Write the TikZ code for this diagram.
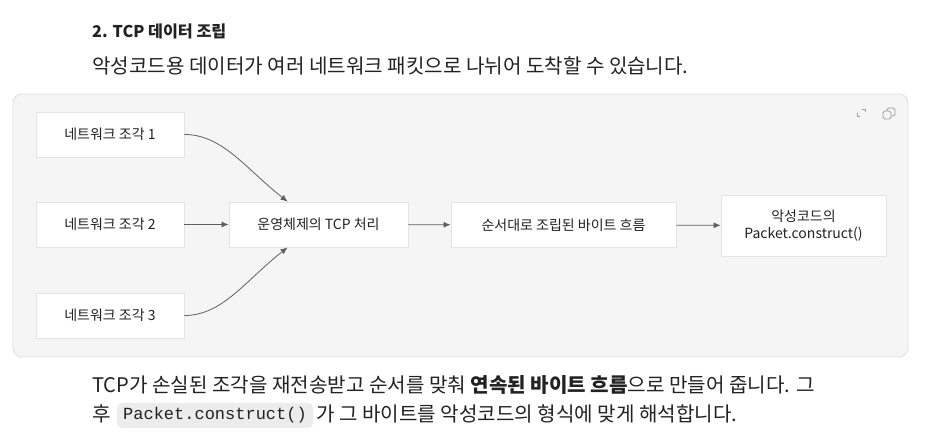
\documentclass[tikz,border=0pt]{standalone}
\usepackage{fontspec}
\setmainfont{Noto Sans CJK KR}
\newfontfamily\codefont{Liberation Mono}
\usetikzlibrary{arrows.meta}
\definecolor{panelbg}{HTML}{F5F5F5}
\definecolor{panelbd}{HTML}{E2E2E2}
\definecolor{boxbd}{HTML}{E4E4E4}
\definecolor{edgec}{HTML}{5F5F5F}
\definecolor{txt}{HTML}{222222}
\definecolor{codebg}{HTML}{ECECEC}
\tikzset{
  flowbox/.style={draw=boxbd, line width=0.9pt, fill=white, inner sep=0pt,
    minimum height=45pt, font=\fontsize{14}{16.5}\selectfont, text=txt, align=center},
  edge/.style={draw=edgec, line width=0.8pt, -{Latex[length=7pt,width=6pt]}},
  para/.style={anchor=base west, inner sep=0pt, text=txt, font=\fontsize{20.1}{24}\selectfont},
  icon/.style={draw=gray!75, line width=0.8pt}
}
\begin{document}
\begin{tikzpicture}[x=1pt,y=-1pt]
\useasboundingbox[fill=white] (0,0) rectangle (927,446);
% heading
\node[para, font=\fontsize{16.2}{18}\selectfont\bfseries] (title) at (92,38) {2. TCP 데이터 조립};
\node[para] (sub) at (92,74) {악성코드용 데이터가 여러 네트워크 패킷으로 나뉘어 도착할 수 있습니다.};
% panel
\draw[fill=panelbg, draw=panelbd, line width=0.9pt, rounded corners=9pt] (13,94) rectangle (908,357);
% icons
\draw[icon] (857,113) -- (857,116) -- (860,116);
\draw[icon] (862,109) -- (865,109) -- (865,112);
\draw[icon, rounded corners=1.8pt] (887,108) rectangle (895,116);
\draw[icon, rounded corners=1.8pt, fill=panelbg] (883,111) rectangle (891,119);
% nodes
\node[flowbox, minimum width=148pt] (n1) at (110,134.5) {네트워크 조각 1};
\node[flowbox, minimum width=148pt] (n2) at (110,224.5) {네트워크 조각 2};
\node[flowbox, minimum width=148pt] (n3) at (110,315.5) {네트워크 조각 3};
\node[flowbox, minimum width=179pt] (tcp) at (318.5,224.5) {운영체제의 TCP 처리};
\node[flowbox, minimum width=225pt] (stream) at (563.5,225) {순서대로 조립된 바이트 흐름};
\node[flowbox, minimum width=165pt, minimum height=61pt] (pkt) at (803.5,225.5) {악성코드의\\Packet.construct()};
% edges
\draw[edge] (n1.east) .. controls +(38,0) and +(-42,-33) .. ([xshift=59pt]tcp.north west);
\draw[edge] (n3.east) .. controls +(38,0) and +(-42,33) .. ([xshift=59pt]tcp.south west);
\draw[edge] (n2) -- (tcp);
\draw[edge] (tcp) -- (stream);
\draw[edge] (stream) -- (pkt);
% bottom paragraph
\node[para] (l1) at (92,393) {TCP가 손실된 조각을 재전송받고 순서를 맞춰 \textbf{연속된 바이트 흐름}으로 만들어 줍니다. 그};
\node[para] (l2a) at (92,421) {후};
\node[fill=codebg, rounded corners=5pt, inner xsep=5pt, inner ysep=0pt, minimum height=25pt, minimum width=196pt,
  font=\codefont\fontsize{17}{20}\selectfont, text=txt] (code) at (215,415.5) {Packet.construct()};
\node[para] (l2b) at (316,421) {가 그 바이트를 악성코드의 형식에 맞게 해석합니다.};
\end{tikzpicture}
\end{document}
